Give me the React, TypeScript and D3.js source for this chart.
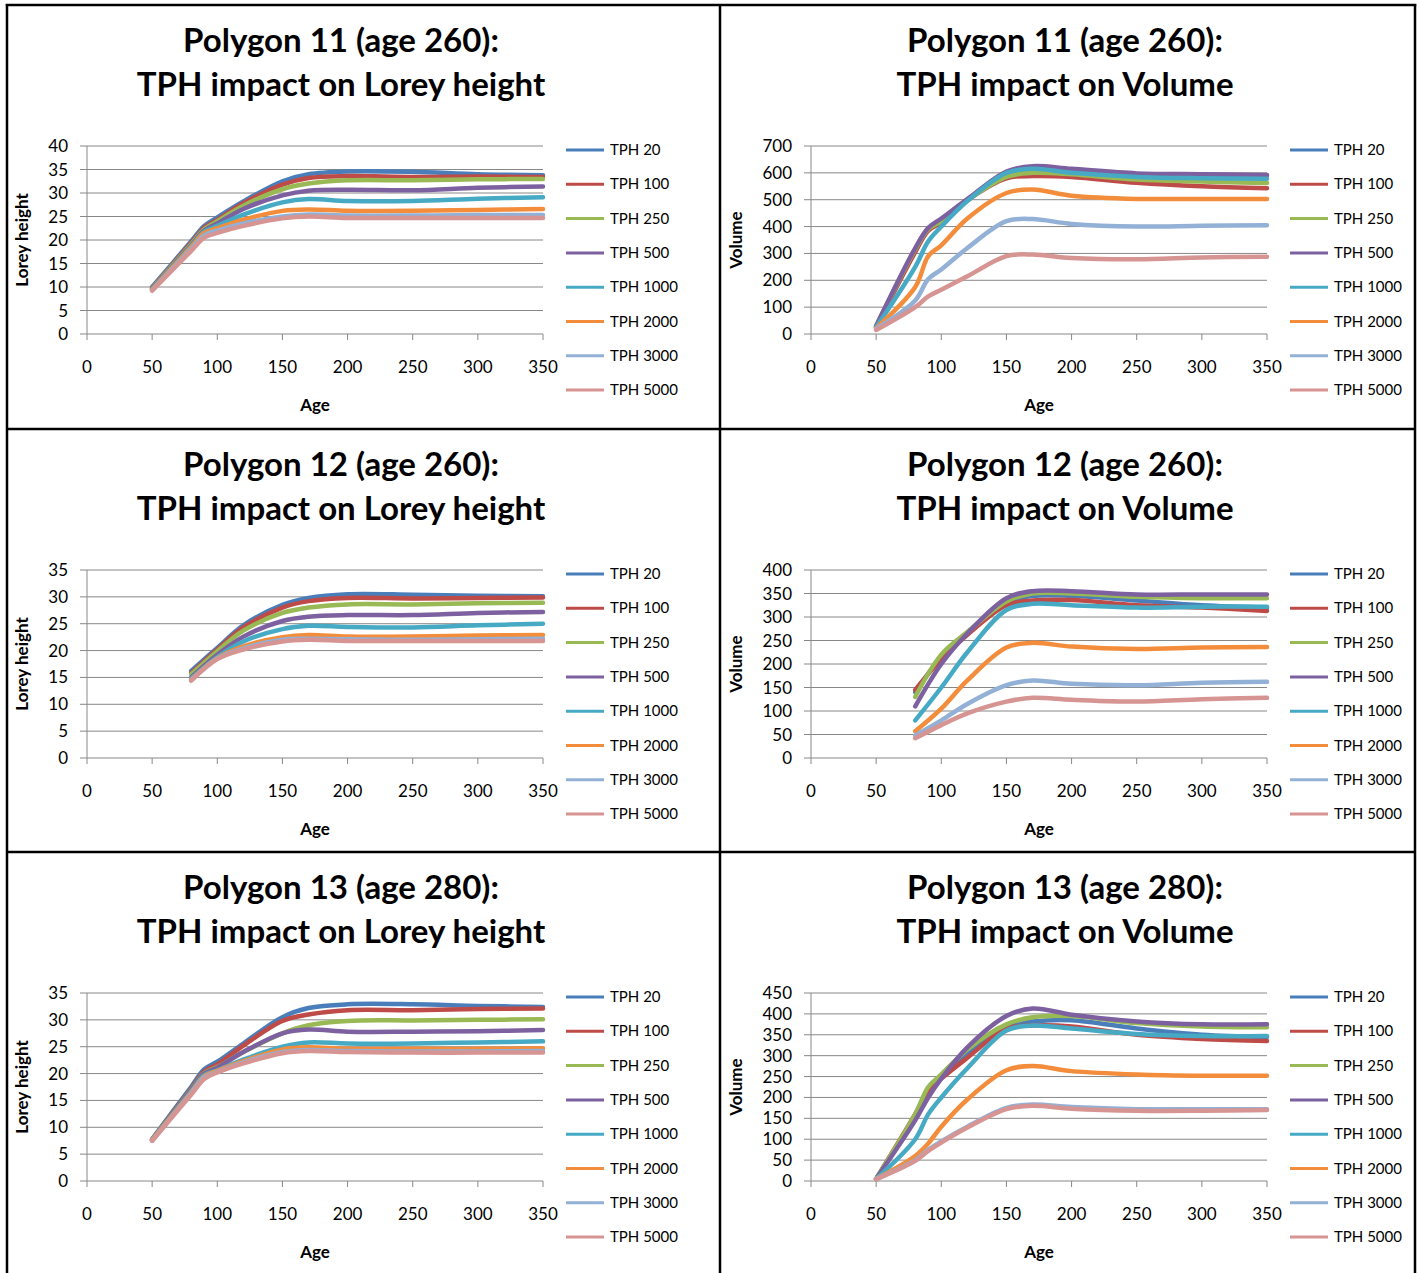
import React from "react";
import * as d3 from "d3";

const tphLabels = ["TPH 20", "TPH 100", "TPH 250", "TPH 500", "TPH 1000", "TPH 2000", "TPH 3000", "TPH 5000"];
const tphColors = ["#4A7EBB", "#BE4B48", "#98B954", "#7D60A0", "#46AAC5", "#F38D3C", "#93B0D6", "#D69492"];
const xTicks = [0, 50, 100, 150, 200, 250, 300, 350];

const ageP11 = [50, 80, 90, 100, 120, 150, 170, 200, 250, 300, 350];
const ageP12 = [80, 100, 120, 150, 170, 200, 250, 300, 350];
const ageP13 = [50, 80, 90, 100, 120, 150, 170, 200, 250, 300, 350];

const loreyP11 = [
  [10, 19.75, 23, 24.8, 28.2, 32.5, 34, 34.6, 34.5, 34, 33.8],
  [9.8, 19.4, 22.6, 24.3, 27.8, 31.8, 33.2, 33.6, 33.4, 33.5, 33.4],
  [9.7, 19.15, 22.3, 24, 27.3, 30.8, 32, 32.7, 32.7, 32.9, 33],
  [9.6, 18.9, 22, 23.5, 26.6, 29.5, 30.5, 30.7, 30.6, 31.1, 31.4],
  [9.5, 18.7, 21.8, 23, 25.4, 28, 28.7, 28.3, 28.3, 28.8, 29.1],
  [9.4, 18.5, 21.5, 22.5, 24.3, 26.2, 26.5, 26.2, 26.2, 26.4, 26.6],
  [9.3, 18.1, 21, 22, 23.5, 25, 25.4, 25.2, 25.2, 25.3, 25.3],
  [9.2, 17.7, 20.5, 21.5, 23, 24.6, 25, 24.7, 24.7, 24.7, 24.7],
];

const volumeP11 = [
  [28, 310, 390, 420, 500, 595, 612, 608, 595, 592, 590],
  [27, 305, 385, 415, 498, 580, 588, 585, 563, 550, 543],
  [30, 315, 390, 420, 498, 585, 600, 595, 575, 568, 562],
  [30, 320, 395, 430, 502, 605, 625, 615, 598, 595, 592],
  [25, 250, 345, 400, 495, 600, 615, 600, 585, 580, 578],
  [22, 175, 290, 330, 430, 525, 538, 515, 503, 503, 503],
  [20, 125, 205, 240, 320, 420, 428, 410, 400, 403, 405],
  [15, 100, 140, 165, 215, 290, 296, 283, 278, 285, 288],
];

const loreyP12 = [
  [16.2, 20.5, 24.7, 28.5, 29.8, 30.5, 30.4, 30.2, 30.1],
  [15.8, 20.2, 24.3, 28, 29.2, 29.8, 29.7, 29.8, 29.9],
  [15.6, 19.9, 23.7, 27, 28, 28.6, 28.6, 28.8, 28.9],
  [15, 19.2, 22.6, 25.5, 26.3, 26.6, 26.6, 27, 27.2],
  [14.8, 18.8, 21.7, 24, 24.6, 24.4, 24.3, 24.7, 25],
  [14.6, 18.6, 20.8, 22.5, 22.9, 22.6, 22.6, 22.8, 22.9],
  [14.5, 18.5, 20.4, 22, 22.2, 22.1, 22, 22.1, 22.2],
  [14.4, 18.4, 20.2, 21.7, 22, 21.8, 21.8, 21.8, 21.8],
];

const volumeP12 = [
  [140, 215, 265, 330, 345, 345, 335, 325, 320],
  [145, 210, 262, 325, 335, 336, 325, 320, 313],
  [130, 220, 268, 333, 350, 350, 343, 340, 340],
  [110, 200, 265, 340, 355, 355, 348, 348, 348],
  [80, 150, 225, 315, 328, 325, 320, 322, 322],
  [57, 105, 165, 235, 245, 237, 232, 235, 236],
  [48, 80, 115, 155, 165, 158, 155, 160, 162],
  [42, 70, 95, 120, 128, 124, 120, 125, 128],
];

const loreyP13 = [
  [7.8, 17.55, 20.8, 22.2, 25.6, 30.5, 32.2, 32.9, 32.9, 32.6, 32.4],
  [7.7, 17.2, 20.4, 21.7, 25.2, 29.8, 31, 31.8, 31.8, 32, 32.1],
  [7.7, 17, 20.1, 21.2, 24, 27.5, 29, 29.8, 29.9, 30, 30.1],
  [7.6, 16.9, 20, 21.1, 24, 27.5, 28.2, 27.8, 27.8, 27.9, 28.1],
  [7.6, 16.7, 19.7, 20.6, 22.6, 25, 25.8, 25.6, 25.6, 25.8, 26],
  [7.6, 16.5, 19.5, 20.5, 22.3, 24.5, 24.9, 24.6, 24.6, 24.6, 24.7],
  [7.5, 16.35, 19.3, 20.3, 22.1, 24, 24.4, 24.2, 24.1, 24.1, 24.2],
  [7.5, 16.1, 19, 20.2, 21.9, 23.8, 24.2, 24, 23.9, 23.9, 23.9],
];

const volumeP13 = [
  [5, 155, 215, 250, 305, 370, 382, 385, 365, 350, 345],
  [5, 160, 215, 245, 295, 365, 372, 370, 350, 340, 335],
  [5, 160, 225, 255, 315, 375, 392, 395, 378, 370, 368],
  [5, 145, 200, 245, 320, 395, 413, 398, 382, 375, 375],
  [5, 100, 160, 200, 270, 360, 372, 365, 352, 347, 347],
  [5, 60, 90, 130, 195, 265, 275, 263, 255, 252, 252],
  [5, 50, 75, 95, 130, 175, 183, 177, 172, 172, 172],
  [4, 48, 72, 92, 128, 172, 180, 173, 168, 168, 170],
];

type Panel = {
  title1: string;
  title2: string;
  yTitle: string;
  ages: number[];
  series: number[][];
  yMax: number;
  yStep: number;
  col: number;
  row: number;
};

const panels: Panel[] = [
  { title1: "Polygon 11 (age 260):", title2: "TPH impact on Lorey height", yTitle: "Lorey height", ages: ageP11, series: loreyP11, yMax: 40, yStep: 5, col: 0, row: 0 },
  { title1: "Polygon 11 (age 260):", title2: "TPH impact on Volume", yTitle: "Volume", ages: ageP11, series: volumeP11, yMax: 700, yStep: 100, col: 1, row: 0 },
  { title1: "Polygon 12 (age 260):", title2: "TPH impact on Lorey height", yTitle: "Lorey height", ages: ageP12, series: loreyP12, yMax: 35, yStep: 5, col: 0, row: 1 },
  { title1: "Polygon 12 (age 260):", title2: "TPH impact on Volume", yTitle: "Volume", ages: ageP12, series: volumeP12, yMax: 400, yStep: 50, col: 1, row: 1 },
  { title1: "Polygon 13 (age 280):", title2: "TPH impact on Lorey height", yTitle: "Lorey height", ages: ageP13, series: loreyP13, yMax: 35, yStep: 5, col: 0, row: 2 },
  { title1: "Polygon 13 (age 280):", title2: "TPH impact on Volume", yTitle: "Volume", ages: ageP13, series: volumeP13, yMax: 450, yStep: 50, col: 1, row: 2 },
];

const colX = [7, 720];
const rowY = [5, 429, 852];
const axisRel = [80, 91];
const FONT = "Lato, 'Open Sans', sans-serif";
const GRID = "#888888";

function ChartPanel({ p }: { p: Panel }) {
  const ox = colX[p.col];
  const oy = rowY[p.row];
  const ax = axisRel[p.col];
  const x = d3.scaleLinear().domain([0, 350]).range([ax, ax + 456]);
  const y = d3.scaleLinear().domain([0, p.yMax]).range([329, 141]);
  const yTicks = d3.range(0, p.yMax + 0.001, p.yStep);
  const line = d3
    .line<[number, number]>()
    .x((d) => x(d[0]))
    .y((d) => y(d[1]))
    .curve(d3.curveCatmullRom.alpha(0.5));
  const plotCenter = (x(0) + x(350)) / 2;
  const titleCx = plotCenter + 26;
  const legX = ax + 479;
  return (
    <g transform={`translate(${ox},${oy})`}>
      <text x={titleCx} y={47} textAnchor="middle" fontFamily={FONT} fontWeight="bold" fontSize={33} fill="#000">
        {p.title1}
      </text>
      <text x={titleCx} y={91} textAnchor="middle" fontFamily={FONT} fontWeight="bold" fontSize={33} fill="#000">
        {p.title2}
      </text>
      {yTicks.map((t) => (
        <g key={"g" + t}>
          <line x1={x(0) - 7} x2={x(350)} y1={y(t)} y2={y(t)} stroke={GRID} strokeWidth={1} />
          <text x={x(0) - 19} y={y(t) + 6} textAnchor="end" fontFamily={FONT} fontSize={17} fill="#000">
            {t}
          </text>
        </g>
      ))}
      <line x1={x(0)} x2={x(0)} y1={y(p.yMax)} y2={y(0)} stroke={GRID} strokeWidth={1} />
      {xTicks.map((t) => (
        <g key={"x" + t}>
          <line x1={x(t)} x2={x(t)} y1={y(0)} y2={y(0) + 6} stroke={GRID} strokeWidth={1} />
          <text x={x(t)} y={368} textAnchor="middle" fontFamily={FONT} fontSize={17} fill="#000">
            {t}
          </text>
        </g>
      ))}
      <text x={plotCenter} y={406} textAnchor="middle" fontFamily={FONT} fontWeight="bold" fontSize={17} fill="#000">
        Age
      </text>
      <text
        transform={`translate(${p.col === 0 ? 21 : 22},${(y(0) + y(p.yMax)) / 2}) rotate(-90)`}
        textAnchor="middle"
        fontFamily={FONT}
        fontWeight="bold"
        fontSize={17}
        fill="#000"
      >
        {p.yTitle}
      </text>
      {p.series.map((s, i) => (
        <path
          key={"s" + i}
          d={line(p.ages.map((a, j) => [a, s[j]] as [number, number])) || ""}
          fill="none"
          stroke={tphColors[i]}
          strokeWidth={4.5}
          strokeLinecap="round"
          strokeLinejoin="round"
        />
      ))}
      {tphLabels.map((lab, i) => {
        const ly = 145 + i * 34.3;
        return (
          <g key={"l" + i}>
            <line x1={legX} x2={legX + 38} y1={ly} y2={ly} stroke={tphColors[i]} strokeWidth={3} />
            <text x={legX + 44} y={ly + 5} fontFamily={FONT} fontSize={15} fill="#000">
              {lab}
            </text>
          </g>
        );
      })}
    </g>
  );
}

export default function App() {
  return (
    <svg width={1419} height={1273} style={{ position: "absolute", left: 0, top: 0, background: "#fff" }}>
      <rect x={0} y={0} width={1419} height={1273} fill="#fff" />
      {panels.map((p, i) => (
        <ChartPanel key={i} p={p} />
      ))}
      <g stroke="#000" strokeWidth={2.5}>
        <line x1={7} x2={7} y1={4} y2={1273} />
        <line x1={720} x2={720} y1={4} y2={1273} />
        <line x1={1415} x2={1415} y1={4} y2={1273} />
        <line x1={5.75} x2={1416.25} y1={5} y2={5} />
        <line x1={7} x2={1415} y1={429} y2={429} />
        <line x1={7} x2={1415} y1={852} y2={852} />
      </g>
    </svg>
  );
}
